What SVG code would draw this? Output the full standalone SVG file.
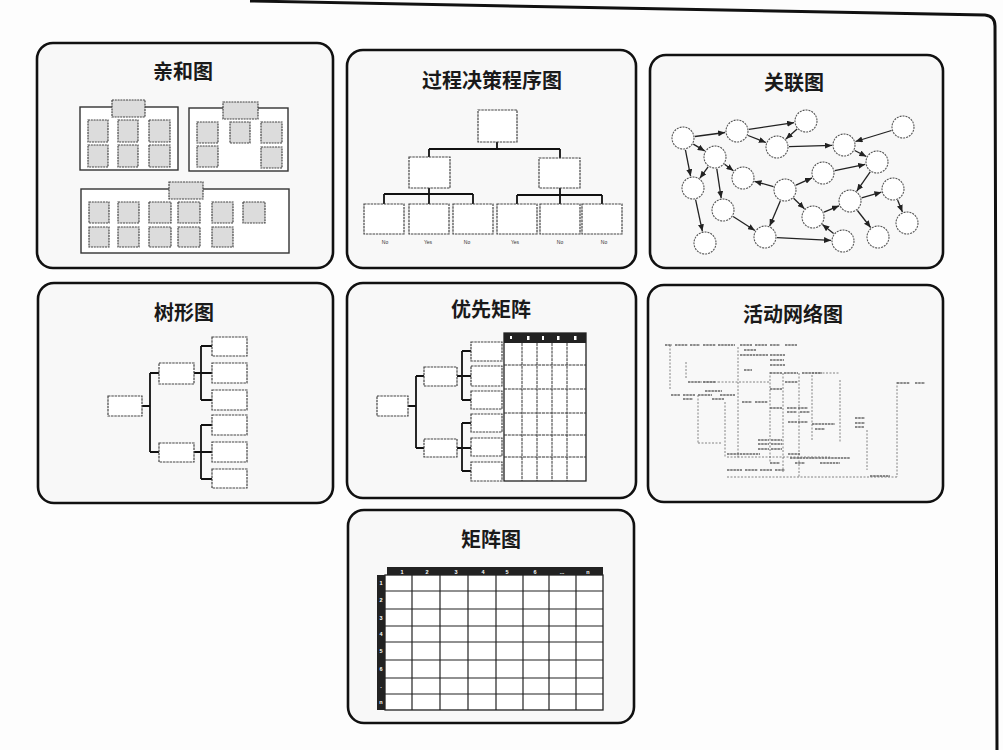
<svg xmlns="http://www.w3.org/2000/svg" width="1003" height="750" viewBox="0 0 1003 750">
<defs>
<style>
.panel{fill:#f8f8f8;stroke:#111;stroke-width:2.6}
.title{font-family:"Noto Sans CJK SC","Noto Sans",sans-serif;font-weight:bold;font-size:20px;fill:#1a1a1a;text-anchor:middle}
.grp{fill:#fff;stroke:#333;stroke-width:1.4}
.sq{fill:#dcdcdc;stroke:#444;stroke-width:1.2;stroke-dasharray:2 0.8}
.box{fill:#fff;stroke:#444;stroke-width:1.2;stroke-dasharray:2.5 0.8}
.conn{stroke:#111;stroke-width:1.8;fill:none}
.circ{fill:#fff;stroke:#555;stroke-width:1.1;stroke-dasharray:2 1}
.arr{stroke:#222;stroke-width:1.3;fill:none;marker-end:url(#ah)}
.tiny{font-family:"Liberation Sans",Arial,sans-serif;font-size:5px;fill:#333;text-anchor:middle}
.wt{font-family:"Liberation Sans",Arial,sans-serif;font-size:5.5px;font-weight:bold;fill:#fff;text-anchor:middle}
.gl{stroke:#222;stroke-width:1.2}
.gv{stroke:#333;stroke-width:1;stroke-dasharray:3 0.8}
.dark{fill:#222}
.dl{stroke:#666;stroke-width:0.8;stroke-dasharray:2 1.5;fill:none}
.tm{stroke:#666;stroke-width:1.7;stroke-dasharray:2.5 0.7}
</style>
<marker id="ah" markerWidth="7" markerHeight="6" refX="7" refY="3" orient="auto" markerUnits="userSpaceOnUse">
<path d="M0,0 L7,3 L0,6 z" fill="#222"/>
</marker>
</defs>
<rect width="1003" height="750" fill="#fdfdfd"/>
<path d="M250 1 L985 15 Q995 16 995 26 L997 750" fill="none" stroke="#111" stroke-width="3"/>

<!-- Panel 1: 亲和图 -->
<g id="affinity">
<rect class="panel" x="37" y="43" width="296" height="225" rx="16"/>
<text class="title" x="183" y="79">亲和图</text>
<rect class="grp" x="80" y="107" width="98" height="63"/>
<rect class="sq" x="112" y="100" width="33" height="17"/>
<rect class="sq" x="88" y="120" width="20" height="22"/>
<rect class="sq" x="118" y="120" width="20" height="22"/>
<rect class="sq" x="149" y="120" width="21" height="22"/>
<rect class="sq" x="88" y="145" width="20" height="22"/>
<rect class="sq" x="118" y="145" width="20" height="22"/>
<rect class="sq" x="149" y="145" width="21" height="22"/>
<rect class="grp" x="189" y="108" width="99" height="63"/>
<rect class="sq" x="223" y="102" width="35" height="17"/>
<rect class="sq" x="197" y="122" width="21" height="21"/>
<rect class="sq" x="230" y="122" width="20" height="21"/>
<rect class="sq" x="261" y="122" width="21" height="21"/>
<rect class="sq" x="197" y="146" width="21" height="21"/>
<rect class="sq" x="261" y="147" width="21" height="21"/>
<rect class="grp" x="81" y="189" width="208" height="64"/>
<rect class="sq" x="169" y="182" width="34" height="17"/>
<rect class="sq" x="89" y="202" width="20" height="21"/>
<rect class="sq" x="118" y="202" width="21" height="21"/>
<rect class="sq" x="149" y="202" width="22" height="21"/>
<rect class="sq" x="178" y="202" width="22" height="21"/>
<rect class="sq" x="212" y="202" width="21" height="21"/>
<rect class="sq" x="243" y="202" width="22" height="21"/>
<rect class="sq" x="89" y="227" width="20" height="20"/>
<rect class="sq" x="118" y="227" width="21" height="20"/>
<rect class="sq" x="149" y="227" width="22" height="20"/>
<rect class="sq" x="178" y="227" width="22" height="20"/>
<rect class="sq" x="212" y="227" width="21" height="20"/>
</g>

<!-- Panel 2: 过程决策程序图 -->
<g id="pdpc">
<rect class="panel" x="347" y="50" width="289" height="218" rx="16"/>
<text class="title" x="492" y="88">过程决策程序图</text>
<g class="conn">
<path d="M497 142 V149 M429 149 H560 M429 149 V157 M560 149 V158"/>
<path d="M429 188 V194 M384 194 H473 M384 194 V204 M429 194 V204 M473 194 V204"/>
<path d="M560 188 V195 M517 195 H602 M517 195 V204 M560 195 V204 M602 195 V204"/>
</g>
<rect class="box" x="478" y="110" width="39" height="32"/>
<rect class="box" x="409" y="157" width="41" height="31"/>
<rect class="box" x="539" y="158" width="41" height="30"/>
<rect class="box" x="364" y="204" width="40" height="30"/>
<rect class="box" x="409" y="204" width="40" height="30"/>
<rect class="box" x="453" y="204" width="40" height="30"/>
<rect class="box" x="497" y="204" width="40" height="30"/>
<rect class="box" x="540" y="204" width="40" height="30"/>
<rect class="box" x="582" y="204" width="40" height="30"/>
<text class="tiny" x="385" y="244">No</text>
<text class="tiny" x="428" y="244">Yes</text>
<text class="tiny" x="467" y="244">No</text>
<text class="tiny" x="515" y="244">Yes</text>
<text class="tiny" x="560" y="244">No</text>
<text class="tiny" x="604" y="244">No</text>
</g>

<!-- Panel 3: 关联图 -->
<g id="relations">
<rect class="panel" x="650" y="55" width="293" height="213" rx="16"/>
<text class="title" x="794" y="90">关联图</text>
<g id="relations-nodes">
<g id="c1"><circle class="circ" cx="683" cy="138" r="11"/></g>
<g id="c2"><circle class="circ" cx="737" cy="131" r="11"/></g>
<g id="c3"><circle class="circ" cx="806" cy="121" r="11"/></g>
<g id="c4"><circle class="circ" cx="777" cy="147" r="11"/></g>
<g id="c5"><circle class="circ" cx="844" cy="145" r="11"/></g>
<g id="c6"><circle class="circ" cx="903" cy="127" r="11"/></g>
<g id="c7"><circle class="circ" cx="715" cy="157" r="11"/></g>
<g id="c8"><circle class="circ" cx="877" cy="162" r="11"/></g>
<g id="c9"><circle class="circ" cx="693" cy="188" r="11"/></g>
<g id="c10"><circle class="circ" cx="743" cy="178" r="11"/></g>
<g id="c11"><circle class="circ" cx="823" cy="173" r="11"/></g>
<g id="c12"><circle class="circ" cx="785" cy="190" r="11"/></g>
<g id="c13"><circle class="circ" cx="893" cy="189" r="11"/></g>
<g id="c14"><circle class="circ" cx="723" cy="210" r="11"/></g>
<g id="c15"><circle class="circ" cx="850" cy="201" r="11"/></g>
<g id="c16"><circle class="circ" cx="813" cy="217" r="11"/></g>
<g id="c17"><circle class="circ" cx="907" cy="223" r="11"/></g>
<g id="c18"><circle class="circ" cx="765" cy="237" r="11"/></g>
<g id="c19"><circle class="circ" cx="705" cy="243" r="11"/></g>
<g id="c20"><circle class="circ" cx="843" cy="241" r="11"/></g>
<g id="c21"><circle class="circ" cx="878" cy="237" r="11"/></g>
</g>
<g id="relations-connectors">
<line class="arr" x1="694.9" y1="136.5" x2="725.1" y2="132.5"/>
<line class="arr" x1="748.9" y1="129.3" x2="794.1" y2="122.7"/>
<line class="arr" x1="797.1" y1="129" x2="785.9" y2="139"/>
<line class="arr" x1="748.1" y1="135.5" x2="765.9" y2="142.5"/>
<line class="arr" x1="789" y1="146.6" x2="832" y2="145.4"/>
<line class="arr" x1="891.5" y1="130.5" x2="855.5" y2="141.5"/>
<line class="arr" x1="854.7" y1="150.5" x2="866.3" y2="156.5"/>
<line class="arr" x1="693.3" y1="144.1" x2="704.7" y2="150.9"/>
<line class="arr" x1="685.4" y1="149.8" x2="690.6" y2="176.2"/>
<line class="arr" x1="708.1" y1="166.8" x2="699.9" y2="178.2"/>
<line class="arr" x1="724.6" y1="164.2" x2="733.4" y2="170.8"/>
<line class="arr" x1="716.8" y1="168.9" x2="721.2" y2="198.1"/>
<line class="arr" x1="695.6" y1="199.7" x2="702.4" y2="231.3"/>
<line class="arr" x1="773.5" y1="186.7" x2="754.5" y2="181.3"/>
<line class="arr" x1="834.8" y1="170.6" x2="865.2" y2="164.4"/>
<line class="arr" x1="796" y1="185.1" x2="812" y2="177.9"/>
<line class="arr" x1="870.2" y1="171.9" x2="856.8" y2="191.1"/>
<line class="arr" x1="793.6" y1="198.3" x2="804.4" y2="208.7"/>
<line class="arr" x1="780.3" y1="201" x2="769.7" y2="226"/>
<line class="arr" x1="733.1" y1="216.5" x2="754.9" y2="230.5"/>
<line class="arr" x1="777" y1="237.6" x2="831" y2="240.4"/>
<line class="arr" x1="833.6" y1="233.5" x2="822.4" y2="224.5"/>
<line class="arr" x1="824" y1="212.2" x2="839" y2="205.8"/>
<line class="arr" x1="861.6" y1="197.8" x2="881.4" y2="192.2"/>
<line class="arr" x1="897.6" y1="200.1" x2="902.4" y2="211.9"/>
<line class="arr" x1="857.4" y1="210.5" x2="870.6" y2="227.5"/>
</g>
</g>

<!-- Panel 4: 树形图 -->
<g id="tree">
<rect class="panel" x="38" y="283" width="295" height="220" rx="16"/>
<text class="title" x="184" y="320">树形图</text>
<g class="conn">
<path d="M142 406 H150 M150 373 V452 M150 373 H159 M150 452 H159"/>
<path d="M194 373 H212 M201 346 V400 M201 346 H212 M201 400 H212"/>
<path d="M194 452 H212 M201 425 V479 M201 425 H212 M201 479 H212"/>
</g>
<rect class="box" x="108" y="396" width="34" height="20"/>
<rect class="box" x="159" y="363" width="35" height="21"/>
<rect class="box" x="159" y="443" width="35" height="19"/>
<rect class="box" x="212" y="337" width="35" height="19"/>
<rect class="box" x="212" y="363" width="35" height="20"/>
<rect class="box" x="212" y="390" width="35" height="20"/>
<rect class="box" x="212" y="415" width="35" height="20"/>
<rect class="box" x="212" y="442" width="35" height="20"/>
<rect class="box" x="212" y="469" width="35" height="19"/>
</g>

<!-- Panel 5: 优先矩阵 -->
<g id="priority">
<rect class="panel" x="347" y="283" width="289" height="215" rx="16"/>
<text class="title" x="491" y="317">优先矩阵</text>
<g class="conn">
<path d="M408 406 H416 M416 376 V448 M416 376 H424 M416 448 H424"/>
<path d="M457 376 H471 M462 351 V400 M462 351 H471 M462 400 H471"/>
<path d="M457 448 H471 M462 423 V471 M462 423 H471 M462 471 H471"/>
</g>
<rect class="box" x="377" y="396" width="31" height="20"/>
<rect class="box" x="424" y="367" width="33" height="19"/>
<rect class="box" x="424" y="439" width="33" height="18"/>
<rect class="box" x="471" y="342" width="31" height="19"/>
<rect class="box" x="471" y="366" width="31" height="20"/>
<rect class="box" x="471" y="391" width="31" height="18"/>
<rect class="box" x="471" y="414" width="31" height="18"/>
<rect class="box" x="471" y="438" width="31" height="18"/>
<rect class="box" x="471" y="462" width="31" height="19"/>
<rect x="504" y="333" width="82" height="148" fill="#fff" stroke="#222" stroke-width="1.3"/>
<rect class="dark" x="504" y="333" width="82" height="10"/>
<g fill="#fff">
<rect x="510" y="336" width="2" height="3"/><rect x="527" y="336" width="2.5" height="4"/><rect x="542" y="336" width="2" height="4"/><rect x="557" y="336" width="2.5" height="4"/><rect x="574" y="336" width="2.5" height="4"/>
</g>
<g class="gv">
<line x1="522" y1="343" x2="522" y2="481"/><line x1="537" y1="343" x2="537" y2="481"/><line x1="552" y1="343" x2="552" y2="481"/><line x1="567" y1="343" x2="567" y2="481"/>
</g>
<g class="gv">
<line x1="504" y1="365" x2="586" y2="365"/><line x1="504" y1="389" x2="586" y2="389"/><line x1="504" y1="413" x2="586" y2="413"/><line x1="504" y1="435" x2="586" y2="435"/><line x1="504" y1="457" x2="586" y2="457"/>
</g>
</g>

<!-- Panel 6: 活动网络图 -->
<g id="activity-network">
<rect class="panel" x="648" y="285" width="295" height="217" rx="16"/>
<text class="title" x="793" y="322">活动网络图</text>
<g class="dl">
<path d="M670 345 V390 M686 362 V378 M718 382 H770 M738 347 V458 M770 372 V463 M783 373 V472 M799 373 V477 M812 375 V440 M840 380 V443 M867 430 V470 M897 382 V477 M727 477 H897 M727 457 H830 M698 443 H722 M698 395 V443 M725 402 V458 M812 373 H840 M700 382 H718"/>
</g>
<g class="tm">
<path d="M665 345 H672 M675 345 H688 M690 345 H700 M703 345 H716 M718 345 H735 M740 345 H752 M755 345 H767 M770 345 H780 M785 345 H797"/>
<path d="M744 350 H756 M740 355 H768 M770 355 H785 M770 360 H784 M770 365 H785 M744 370 H752"/>
<path d="M770 373 H782 M784 373 H798 M802 373 H822"/>
<path d="M688 382 H700 M703 382 H716 M785 382 H798 M897 383 H910 M915 383 H925 M770 389 H782"/>
<path d="M705 391 H722 M720 395 H735 M671 395 H680 M683 395 H695 M698 395 H712 M683 399 H693 M712 399 H724"/>
<path d="M742 402 H752 M755 402 H768 M770 408 H782 M787 408 H797 M798 408 H808 M787 412 H797 M800 412 H810"/>
<path d="M788 422 H797 M798 422 H808 M812 424 H835 M855 418 H865 M855 423 H865 M855 427 H864 M815 429 H825"/>
<path d="M758 440 H769 M771 440 H782 M758 444 H769 M771 444 H782 M758 449 H769 M771 449 H782"/>
<path d="M727 454 H760 M788 454 H800 M790 458 H812 M812 458 H850 M770 463 H780 M795 463 H805 M820 463 H840"/>
<path d="M727 470 H742 M745 470 H758 M760 470 H772 M775 470 H785 M870 476 H890"/>
</g>
</g>

<!-- Panel 7: 矩阵图 -->
<g id="matrix">
<rect class="panel" x="348" y="510" width="286" height="213" rx="16"/>
<text class="title" x="491" y="547">矩阵图</text>
<rect x="385" y="575" width="218" height="135" fill="#fff" stroke="#222" stroke-width="1.3"/>
<rect class="dark" x="387" y="567" width="216" height="8"/>
<rect class="dark" x="377" y="575" width="8" height="135"/>
<g class="wt">
<text x="402" y="573.5">1</text><text x="427" y="573.5">2</text><text x="456" y="573.5">3</text><text x="483" y="573.5">4</text><text x="507" y="573.5">5</text><text x="535" y="573.5">6</text><text x="562" y="573.5">...</text><text x="588" y="573.5">n</text>
<text x="381" y="585">1</text><text x="381" y="602">2</text><text x="381" y="619.5">3</text><text x="381" y="636">4</text><text x="381" y="653">5</text><text x="381" y="671">6</text><text x="381" y="688">.</text><text x="381" y="704">n</text>
</g>
<g class="gl">
<line x1="412" y1="575" x2="412" y2="710"/><line x1="440" y1="575" x2="440" y2="710"/><line x1="468" y1="575" x2="468" y2="710"/><line x1="496" y1="575" x2="496" y2="710"/><line x1="523" y1="575" x2="523" y2="710"/><line x1="549" y1="575" x2="549" y2="710"/><line x1="576" y1="575" x2="576" y2="710"/>
<line x1="385" y1="591" x2="603" y2="591"/><line x1="385" y1="609" x2="603" y2="609"/><line x1="385" y1="626" x2="603" y2="626"/><line x1="385" y1="642" x2="603" y2="642"/><line x1="385" y1="660" x2="603" y2="660"/><line x1="385" y1="678" x2="603" y2="678"/><line x1="385" y1="694" x2="603" y2="694"/>
</g>
</g>
</svg>
